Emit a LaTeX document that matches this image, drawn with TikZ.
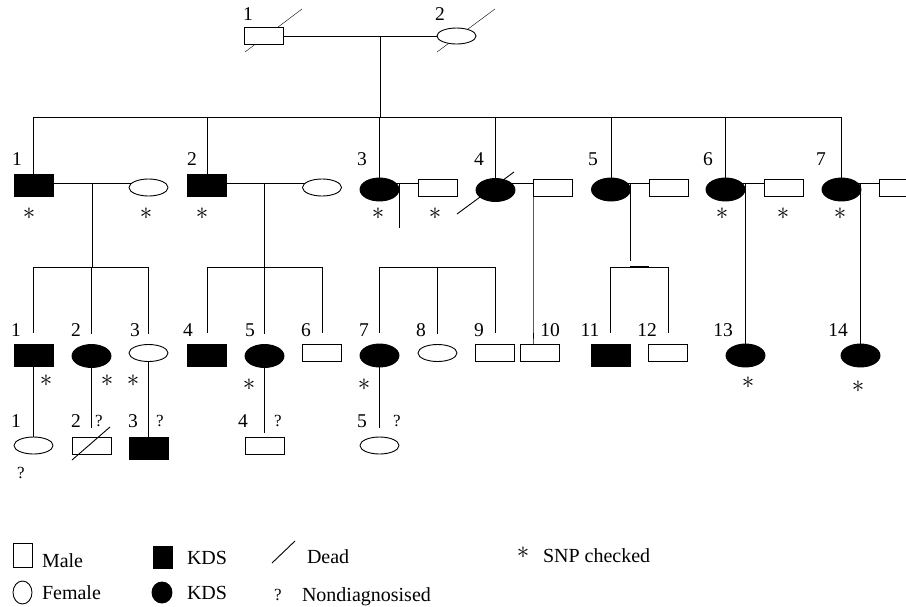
\documentclass[tikz,border=0pt]{standalone}
\usepackage{fontspec}
\setmainfont{Liberation Serif}
\usetikzlibrary{shapes.geometric,backgrounds}
\begin{document}
\begin{tikzpicture}[x=1pt,y=-1pt,line width=0.9pt,
  every node/.style={inner sep=0pt,outer sep=0pt},
  mrect/.style={rectangle,draw,fill=white,minimum width=39pt,minimum height=17pt},
  frect/.style={rectangle,draw,fill=black,minimum width=39pt,minimum height=22pt},
  mell/.style={ellipse,draw,fill=white,minimum width=39pt,minimum height=17pt},
  fell/.style={ellipse,draw,fill=black,minimum width=39pt,minimum height=23pt},
  num/.style={font=\fontsize{19.5}{21}\selectfont},
  qm/.style={font=\fontsize{17}{19}\selectfont},
  astk/.style={font=\fontsize{25}{27}\selectfont},
  leg/.style={font=\fontsize{20}{22}\selectfont,anchor=base west}]
\useasboundingbox (0,0) rectangle (906,606);
\clip (0,0) rectangle (906,606);

% ---- Generation I
\node[mrect] (I1) at (264,36) {};
\node[mell,minimum height=16pt] (I2) at (456.5,36) {};

% ---- Generation II
\node[frect] (II1) at (33.5,185) {};
\node[mell]  (S1)  at (148.5,187.5) {};
\node[frect] (II2) at (207,185) {};
\node[mell]  (S2)  at (322,187.5) {};
\node[fell]  (II3) at (379.5,189.5) {};
\node[mrect] (S3)  at (437.5,187.5) {};
\node[fell]  (II4) at (495.5,190) {};
\node[mrect] (S4)  at (552.5,187.5) {};
\node[fell]  (II5) at (611,189.5) {};
\node[mrect] (S5)  at (668.5,187.5) {};
\node[fell]  (II6) at (725.5,189.5) {};
\node[mrect] (S6)  at (783.5,187.5) {};
\node[fell]  (II7) at (841.5,189.5) {};
\node[mrect] (S7)  at (898.5,187.5) {};

% ---- Generation III
\node[frect] (III1)  at (33.5,355) {};
\node[fell]  (III2)  at (91.5,356) {};
\node[mell]  (III3)  at (148.5,353) {};
\node[frect] (III4)  at (207,355) {};
\node[fell]  (III5)  at (264.5,356) {};
\node[mrect] (III6)  at (322,352.5) {};
\node[fell]  (III7)  at (379.5,355.5) {};
\node[mell]  (III8)  at (437.5,353) {};
\node[mrect] (III9)  at (495,352.5) {};
\node[mrect] (III10) at (540,352.5) {};
\node[frect] (III11) at (610.5,355) {};
\node[mrect] (III12) at (668,352.5) {};
\node[fell]  (III13) at (745.5,355.5) {};
\node[fell]  (III14) at (860.5,355.5) {};

% ---- Generation IV
\node[mell]  (IV1) at (33.5,445.5) {};
\node[mrect] (IV2) at (91.5,445.5) {};
\node[frect] (IV3) at (148.5,448) {};
\node[mrect] (IV4) at (264.5,445.5) {};
\node[mell]  (IV5) at (379.5,445.5) {};

% ---- helper coordinates
\coordinate (m0) at (380,36);
\coordinate (s0) at (380,117);
\coordinate (my) at (0,183);
\coordinate (s1) at (0,267);
\coordinate (d1) at (92,183);
\coordinate (d2) at (264,183);
\coordinate (d3) at (399,183);
\coordinate (e3) at (399,228);
\coordinate (d5) at (630,183);
\coordinate (e5a) at (630,261);
\coordinate (e2) at (91.5,428);
\coordinate (e5) at (264.5,433);
\coordinate (e7) at (379.5,428);

\begin{scope}[on background layer]
  % dead marks behind generation I
  \draw (245,52) -- (302,9);
  \draw (437,52) -- (495,9);
  \draw (I1.center) -- (I2.center);
  \draw (m0) -- (s0);
  \draw (II1.north |- s0) -- (II7.north |- s0);
  \foreach \n in {II1,II2,II3,II4,II5,II6,II7}
    \draw (\n.north |- s0) -- (\n.north);
  \foreach \a/\b in {II1/S1,II2/S2,II3/S3,II4/S4,II5/S5,II6/S6,II7/S7}
    \draw (\a.center |- my) -- (\b.center |- my);
  % descents
  \draw (d1) -- (d1 |- s1);
  \draw (d2) -- (d2 |- s1);
  \draw (d3) -- (e3);
  \draw (S4.south west) -- (S4.south west |- III10.north) -- ++(0,-11);
  \draw (d5) -- (e5a);
  \draw (III13.north |- my) -- (III13.north);
  \draw (III14.north |- my) -- (III14.north);
  % sibling lines
  \draw (III1.north |- s1) -- (III3.north |- s1);
  \draw (III4.north |- s1) -- (III6.north |- s1);
  \draw (III7.north |- s1) -- (III9.north |- s1);
  \draw (III11.north |- s1) -- (III12.north |- s1);
  \draw[line width=2.2pt] (d5 |- s1) -- (S5.west |- s1);
  \foreach \n in {III1,III2,III3,III4,III5,III6,III7,III8,III9,III11,III12}
    \draw (\n.north |- s1) -- ([yshift=11pt]\n.north);
  % generation IV
  \draw (III1.south) -- (IV1.north);
  \draw (III2.south) -- (e2);
  \draw (III3.south) -- (IV3.north);
  \draw (III5.south) -- (e5);
  \draw (III7.south) -- (e7);
\end{scope}

% dead marks on top
\draw (72,460) -- (110,427);
\draw (457,214) -- (514,172);

% ---- labels
\node[num] (lA1) at (248,14) {1};
\node[num] (lA2) at (440,14) {2};
\foreach \x/\t [count=\i] in {17/1,192/2,362/3,479/4,593/5,708/6,821/7}
  \node[num] (lB\i) at (\x,159.5) {\t};
\foreach \x [count=\i] in {29,146,202,378,435,722,783,840}
  \node[astk] (aB\i) at (\x,214) {$\ast$};
\foreach \x/\t [count=\i] in {16/1,76/2,135/3,188/4,250/5,306/6,364/7,421/8,479/9,550/10,590/11,647/12,723/13,838/14}
  \node[num] (lC\i) at (\x,330.5) {\t};
\foreach \x/\y [count=\i] in {46/381,107/381,133/381,249/385,364/385,748/383,858/387}
  \node[astk] (aC\i) at (\x,\y) {$\ast$};
\foreach \x/\t [count=\i] in {16/1,76/2,133/3,243/4,362/5}
  \node[num] (lD\i) at (\x,421) {\t};
\foreach \x/\y [count=\i] in {99/421,160/421,278/421,397/421,21/473}
  \node[qm] (qD\i) at (\x,\y) {?};

% ---- legend
\node[mrect,minimum width=19pt,minimum height=24pt] (lgM) at (22.5,555.5) {};
\node[mell,minimum width=19pt,minimum height=23pt] (lgF) at (22.5,592.5) {};
\node[frect,minimum width=19pt,minimum height=22pt] (lgK1) at (162.5,557) {};
\node[fell,minimum width=20pt,minimum height=21pt] (lgK2) at (162,592.5) {};
\draw (272,563) -- (295,541);
\node[leg] (lgMt) at (42,567) {Male};
\node[leg] (lgFt) at (42,599) {Female};
\node[leg] (lgKt1) at (187,564) {KDS};
\node[leg] (lgKt2) at (187,599) {KDS};
\node[leg] (lgDt) at (307,563) {Dead};
\node[qm] (lgQ) at (278,595) {?};
\node[leg] (lgNt) at (302,601) {Nondiagnosised};
\node[astk] (lgS) at (523,553) {$\ast$};
\node[leg] (lgSt) at (543,562) {SNP checked};
\end{tikzpicture}
\end{document}
